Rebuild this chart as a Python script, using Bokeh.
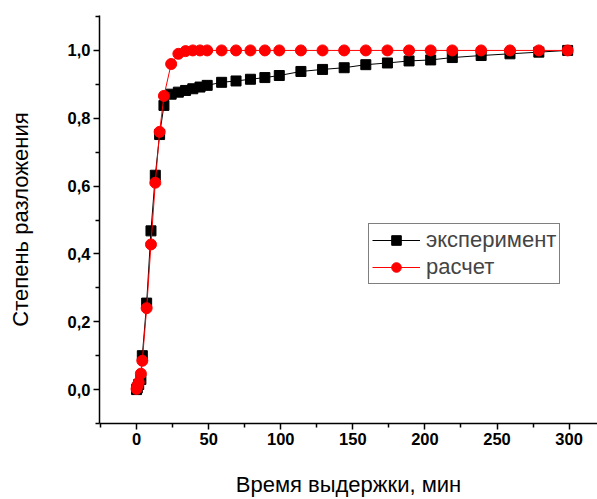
from bokeh.plotting import figure
from bokeh.models import (Range1d, CustomJSTickFormatter, FixedTicker, Legend,
                          LegendItem)
from bokeh.embed import file_html
from bokeh.resources import INLINE

# Holding time, min
time_min = [0, 0.5, 1.5, 3, 4, 7, 10, 13, 16, 19, 24, 29, 34, 39, 44, 49,
            59, 69, 79, 89, 99, 114, 129, 144, 159, 174, 189, 204, 219,
            239, 259, 279, 299]

# Measured decomposition degree
experiment = [0.0, 0.005, 0.015, 0.03, 0.10, 0.255, 0.468, 0.632, 0.752,
              0.838, 0.871, 0.877, 0.882, 0.887, 0.892, 0.897,
              0.906, 0.910, 0.915, 0.920, 0.926, 0.938, 0.944, 0.949,
              0.958, 0.963, 0.969, 0.972, 0.979, 0.985, 0.990, 0.995, 1.0]

# Calculated decomposition degree
calculation = [0.002, 0.01, 0.021, 0.047, 0.085, 0.24, 0.428, 0.61, 0.76,
               0.866, 0.96, 0.99, 0.998, 1.0, 1.0, 1.0,
               1.0, 1.0, 1.0, 1.0, 1.0, 1.0, 1.0, 1.0,
               1.0, 1.0, 1.0, 1.0, 1.0, 1.0, 1.0, 1.0, 1.0]

x_ticks = [0, 50, 100, 150, 200, 250, 300]
y_ticks = [0.0, 0.2, 0.4, 0.6, 0.8, 1.0]

FONT = "Liberation Sans"

p = figure(width=597, height=499, output_backend="svg", toolbar_location=None,
           x_range=Range1d(-25.7, 319.7), y_range=Range1d(-0.1, 1.103),
           min_border_left=99, min_border_right=0, min_border_top=15,
           min_border_bottom=75)
p.outline_line_color = None
p.grid.visible = False
p.background_fill_color = "white"
p.border_fill_color = "white"

# Experimental curve: black squares
l1 = p.line(time_min, experiment, line_color="black", line_width=1)
m1 = p.scatter(time_min, experiment, marker="square", size=10,
               fill_color="black", line_color="black")

# Calculated curve: red circles
l2 = p.line(time_min, calculation, line_color="red", line_width=1)
m2 = p.scatter(time_min, calculation, marker="circle", size=11,
               fill_color="red", line_color="red")

for ax in (p.xaxis[0], p.yaxis[0]):
    ax.axis_line_color = "black"
    ax.axis_line_width = 1.5
    ax.major_tick_line_color = "black"
    ax.major_tick_line_width = 1.5
    ax.minor_tick_line_color = "black"
    ax.minor_tick_line_width = 1.5
    ax.major_tick_in = 0
    ax.major_tick_out = 6
    ax.minor_tick_in = 0
    ax.minor_tick_out = 4
    ax.major_label_text_font = FONT
    ax.major_label_text_font_style = "bold"
    ax.major_label_text_font_size = "16.5px"
    ax.major_label_text_color = "black"
    ax.axis_label_text_font = FONT
    ax.axis_label_text_font_style = "normal"
    ax.axis_label_text_font_size = "22px"
    ax.axis_label_text_color = "black"

p.xaxis.ticker = FixedTicker(ticks=x_ticks,
                             minor_ticks=[t + 25 for t in [-50] + x_ticks])
p.yaxis.ticker = FixedTicker(ticks=y_ticks,
                             minor_ticks=[0.1 + t for t in [-0.2] + y_ticks])
p.yaxis.formatter = CustomJSTickFormatter(
    code="return tick.toFixed(1).replace('.', ',');")
p.xaxis.major_label_standoff = 3
p.yaxis.major_label_standoff = 3

p.xaxis.axis_label = "Время выдержки, мин"
p.yaxis.axis_label = "Степень разложения"
p.xaxis.axis_label_standoff = 24
p.yaxis.axis_label_standoff = 32

legend = Legend(items=[LegendItem(label="эксперимент", renderers=[l1, m1]),
                       LegendItem(label="расчет", renderers=[l2, m2])],
                location=(269, 139))
legend.border_line_color = "black"
legend.border_line_width = 1
legend.background_fill_alpha = 1.0
legend.label_text_font = FONT
legend.label_text_font_size = "22px"
legend.glyph_width = 48
legend.glyph_height = 24
legend.spacing = 1
legend.padding = 3
legend.margin = 0
legend.label_standoff = 6
p.add_layout(legend, "center")

open("out.html", "w").write(file_html(p, INLINE))
